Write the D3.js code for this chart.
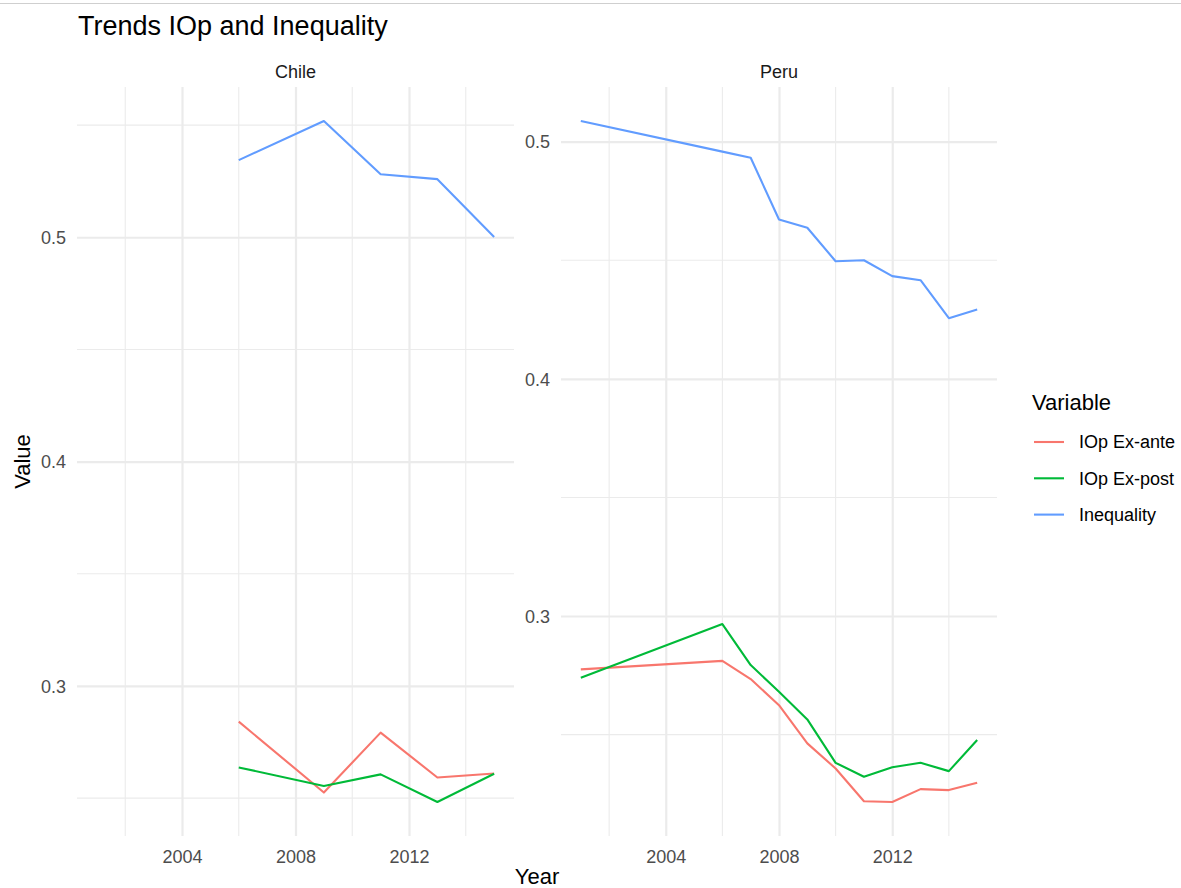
<!DOCTYPE html>
<html>
  <head>
    <meta charset="utf-8">
    <title>Trends IOp and Inequality</title>
    <script src="https://cdn.jsdelivr.net/npm/d3@7"></script>
    <style>
      body { margin: 0; background: #fff; }
      svg { font-family: "Liberation Sans", Arial, sans-serif; }
      .tick text { fill: #4d4d4d; font-size: 18px; }
      .strip { fill: #1a1a1a; font-size: 18px; }
    </style>
  </head>
  <body>
    <svg id="chart" width="1181" height="888"></svg>
    <script>
      // data
      const variables = ["IOp Ex-ante", "IOp Ex-post", "Inequality"];
      const colours = ["#F8766D", "#00BA38", "#619CFF"];

      const chileYears = [2006, 2009, 2011, 2013, 2015];
      const chileExAnte = [0.2841, 0.2525, 0.2792, 0.2592, 0.2610];
      const chileExPost = [0.2637, 0.2554, 0.2606, 0.2483, 0.2609];
      const chileInequality = [0.5344, 0.5518, 0.5281, 0.5259, 0.5001];

      const peruYears = [2001, 2006, 2007, 2008, 2009, 2010, 2011, 2012, 2013, 2014, 2015];
      const peruExAnte = [0.2775, 0.2811, 0.2734, 0.2624, 0.2463, 0.2357, 0.2219, 0.2216, 0.2270, 0.2266, 0.2297];
      const peruExPost = [0.2740, 0.2966, 0.2793, 0.2681, 0.2564, 0.2381, 0.2322, 0.2362, 0.2381, 0.2346, 0.2477];
      const peruInequality = [0.5087, 0.4958, 0.4932, 0.4672, 0.4637, 0.4496, 0.4500, 0.4433, 0.4416, 0.4256, 0.4292];

      const xMajor = [2004, 2008, 2012];
      const xMinor = [2002, 2006, 2010, 2014];
      const yMajor = [0.3, 0.4, 0.5];
      const yMinor = [0.25, 0.35, 0.45, 0.55];

      const panels = [
        { name: "Chile", years: chileYears, series: [chileExAnte, chileExPost, chileInequality], left: 77, right: 514 },
        { name: "Peru", years: peruYears, series: [peruExAnte, peruExPost, peruInequality], left: 561, right: 997 }
      ];
      const panelTop = 87, panelBottom = 836;

      const chart = d3.select("#chart");

      // screenshot edge line
      chart.append("line")
        .attr("x1", 0).attr("x2", 1181).attr("y1", 3.5).attr("y2", 3.5)
        .attr("stroke", "#cfcfcf").attr("stroke-width", 1);

      chart.append("text")
        .attr("x", 78).attr("y", 35)
        .attr("font-size", 27).attr("fill", "#000")
        .text("Trends IOp and Inequality");

      // ggplot-like expansion of 5%
      function expand(ext) {
        const pad = (ext[1] - ext[0]) * 0.05;
        return [ext[0] - pad, ext[1] + pad];
      }

      // x is shared between the facets, y is free
      const allYears = chileYears.concat(peruYears);
      const xDomain = expand(d3.extent(allYears));

      panels.forEach(function(p) {
        const x = d3.scaleLinear().domain(xDomain).range([p.left, p.right]);
        const allVals = d3.merge(p.series);
        const y = d3.scaleLinear().domain(expand(d3.extent(allVals))).range([panelBottom, panelTop]);
        const g = chart.append("g");

        // minor grid
        g.selectAll(".xMinor").data(xMinor).join("line")
          .attr("x1", d => x(d)).attr("x2", d => x(d))
          .attr("y1", panelTop).attr("y2", panelBottom)
          .attr("stroke", "#ebebeb").attr("stroke-width", 1.1);
        g.selectAll(".yMinor").data(yMinor.filter(d => d >= y.domain()[0] && d <= y.domain()[1])).join("line")
          .attr("x1", p.left).attr("x2", p.right)
          .attr("y1", d => y(d)).attr("y2", d => y(d))
          .attr("stroke", "#ebebeb").attr("stroke-width", 1.1);

        // major grid via axes
        const xAxis = d3.axisBottom(x).tickValues(xMajor).tickFormat(d3.format("d"))
          .tickSizeInner(panelTop - panelBottom).tickSizeOuter(0).tickPadding(14);
        const xg = g.append("g").attr("transform", "translate(0," + panelBottom + ")").call(xAxis);
        const yTicks = yMajor.filter(d => d >= y.domain()[0] && d <= y.domain()[1]);
        const yAxis = d3.axisLeft(y).tickValues(yTicks).tickFormat(d3.format(".1f"))
          .tickSizeInner(p.left - p.right).tickSizeOuter(0).tickPadding(11);
        const yg = g.append("g").attr("transform", "translate(" + p.left + ",0)").call(yAxis);
        [xg, yg].forEach(function(a) {
          a.select(".domain").remove();
          a.selectAll(".tick line").attr("stroke", "#ebebeb").attr("stroke-width", 2.2);
          a.selectAll(".tick text").attr("fill", null);
          a.attr("font-family", null).attr("font-size", null);
        });
        yg.selectAll(".tick text").attr("dy", "0.35em");

        // strip label
        g.append("text").attr("class", "strip")
          .attr("x", (p.left + p.right) / 2).attr("y", 78)
          .attr("text-anchor", "middle")
          .text(p.name);

        // series lines
        const line = d3.line()
          .x(d => x(d[0]))
          .y(d => y(d[1]));
        p.series.forEach(function(vals, i) {
          g.append("path")
            .attr("d", line(p.years.map((yr, j) => [yr, vals[j]])))
            .attr("fill", "none")
            .attr("stroke", colours[i])
            .attr("stroke-width", 2.1)
            .attr("stroke-linejoin", "round");
        });
      });

      // axis titles
      chart.append("text")
        .attr("x", (77 + 997) / 2).attr("y", 884)
        .attr("text-anchor", "middle").attr("font-size", 22).attr("fill", "#000")
        .text("Year");
      chart.append("text")
        .attr("transform", "translate(30," + (panelTop + panelBottom) / 2 + ") rotate(-90)")
        .attr("text-anchor", "middle").attr("font-size", 22).attr("fill", "#000")
        .text("Value");

      // legend
      const legend = chart.append("g").attr("transform", "translate(1032,0)");
      legend.append("text").attr("x", 0).attr("y", 410)
        .attr("font-size", 22).attr("fill", "#000").text("Variable");
      const keys = legend.selectAll(".key").data(variables).join("g")
        .attr("transform", (d, i) => "translate(0," + (442 + i * 36.3) + ")");
      keys.append("line")
        .attr("x1", 2).attr("x2", 32).attr("y1", 0).attr("y2", 0)
        .attr("stroke", (d, i) => colours[i]).attr("stroke-width", 2.1);
      keys.append("text")
        .attr("x", 47).attr("y", 0).attr("dy", "0.35em")
        .attr("font-size", 18).attr("fill", "#000")
        .text(d => d);
    </script>
  </body>
</html>
